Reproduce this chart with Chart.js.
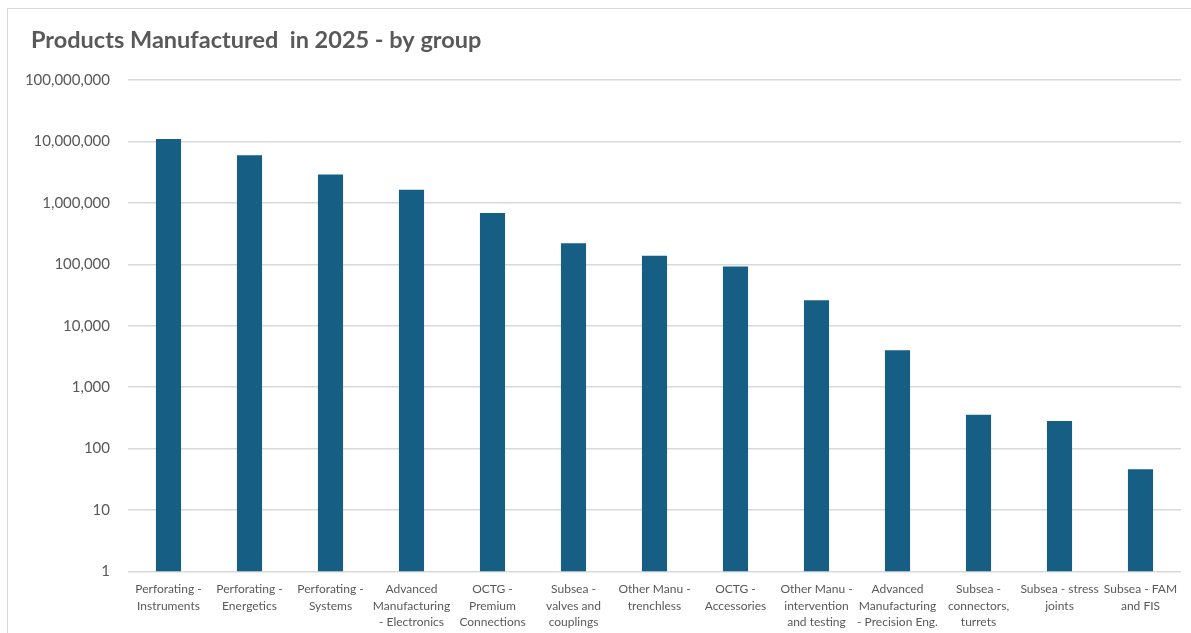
<!DOCTYPE html>
<html>
<head>
<meta charset="utf-8">
<script src="https://cdn.jsdelivr.net/npm/chart.js@4"></script>
<style>
  html, body { margin: 0; padding: 0; background: #fff; overflow: hidden; }
  #frame {
    position: absolute; left: 7px; top: 8px;
    width: 1200px; height: 660px;
    border: 1px solid #d9d9d9; box-sizing: border-box;
  }
  #wrap { position: absolute; left: 0; top: 0; width: 1183px; height: 627px; }
</style>
</head>
<body>
<div id="frame"><div id="wrap"><canvas id="chart"></canvas></div></div>
<script>
const categories = [
  ["Perforating -", "Instruments"],
  ["Perforating -", "Energetics"],
  ["Perforating -", "Systems"],
  ["Advanced", "Manufacturing", "- Electronics"],
  ["OCTG -", "Premium", "Connections"],
  ["Subsea -", "valves and", "couplings"],
  ["Other Manu -", "trenchless"],
  ["OCTG -", "Accessories"],
  ["Other Manu -", "intervention", "and testing"],
  ["Advanced", "Manufacturing", "- Precision Eng."],
  ["Subsea -", "connectors,", "turrets"],
  ["Subsea - stress", "joints"],
  ["Subsea - FAM", "and FIS"]
];

const productsMade = [11000000, 6000000, 2900000, 1640000, 690000, 222000, 138000, 92000, 26000, 4000, 357, 282, 46];

const yTicks = [1, 10, 100, 1000, 10000, 100000, 1000000, 10000000, 100000000];

const textColor = "#595959";
const fontFamily = "Lato, 'Open Sans', sans-serif";

// nudge the title a little to the right of the axis labels
const titleShift = {
  id: "titleShift",
  afterLayout(chart) {
    if (chart.titleBlock) {
      chart.titleBlock.left += 6;
      chart.titleBlock.right += 6;
    }
  }
};

const ctx = document.getElementById("chart").getContext("2d");

new Chart(ctx, {
  type: "bar",
  data: {
    labels: categories,
    datasets: [
      {
        label: "Products Manufactured",
        data: productsMade,
        backgroundColor: "#165E83",
        borderWidth: 0,
        barPercentage: 0.62,
        categoryPercentage: 0.5
      }
    ]
  },
  options: {
    responsive: true,
    maintainAspectRatio: false,
    animation: false,
    layout: {
      padding: { left: 17, right: 10, top: 0, bottom: 4 }
    },
    plugins: {
      legend: { display: false },
      tooltip: { enabled: false },
      title: {
        display: true,
        text: "Products Manufactured  in 2025 - by group",
        align: "start",
        color: textColor,
        font: { family: fontFamily, size: 23.5, weight: "bold" },
        padding: { top: 17, bottom: 26 }
      }
    },
    scales: {
      x: {
        grid: { display: false },
        border: { display: false },
        ticks: {
          color: textColor,
          font: { family: fontFamily, size: 12, lineHeight: 1.35 },
          maxRotation: 0,
          autoSkip: false,
          padding: 2
        }
      },
      y: {
        type: "logarithmic",
        min: 1,
        max: 100000000,
        afterBuildTicks: (scale) => {
          scale.ticks = yTicks.map((v) => ({ value: v }));
        },
        afterFit: (scale) => {
          scale.width = 103;
        },
        grid: {
          color: "#d9d9d9",
          lineWidth: 1.5,
          drawTicks: false
        },
        border: { display: false },
        ticks: {
          color: textColor,
          font: { family: fontFamily, size: 15 },
          padding: 18,
          callback: (value) => Number(value).toLocaleString("en-US")
        }
      }
    }
  },
  plugins: [titleShift]
});
</script>
</body>
</html>
